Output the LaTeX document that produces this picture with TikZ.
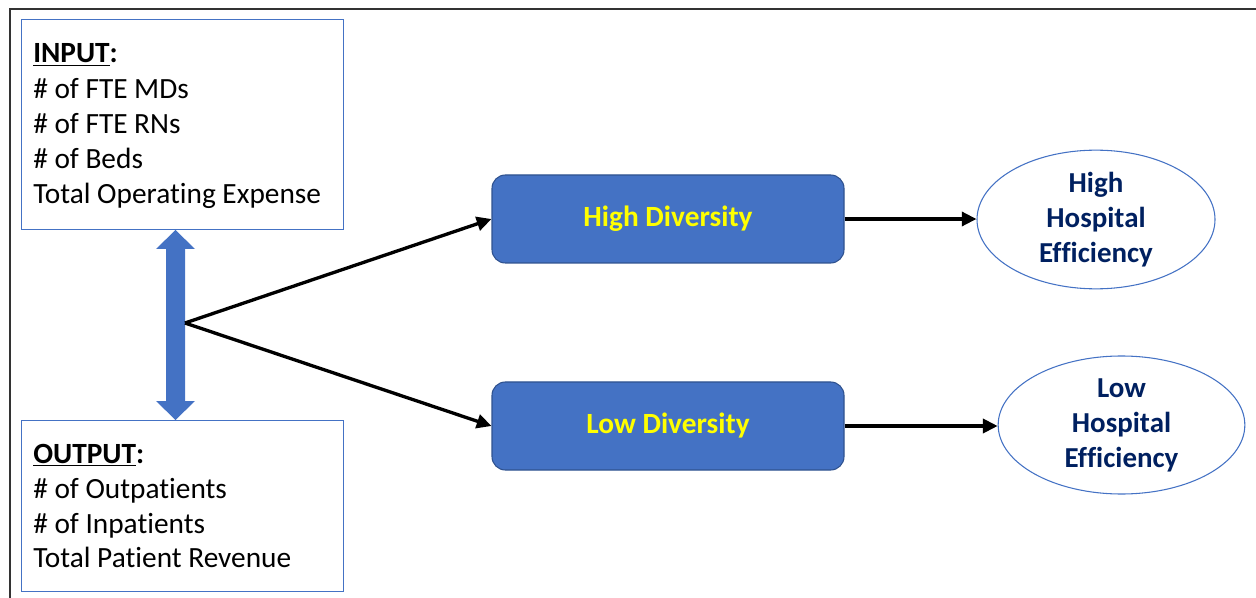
\documentclass[tikz,border=0pt]{standalone}
\usepackage{fontspec}
\setmainfont[Ligatures=NoCommon]{Carlito}
\usetikzlibrary{arrows.meta,shapes.geometric}
\definecolor{boxblue}{HTML}{4472C4}
\definecolor{boxedge}{HTML}{2F528F}
\definecolor{navy}{HTML}{002060}
\definecolor{yel}{HTML}{FFFF00}
\begin{document}
\begin{tikzpicture}[x=0.75pt,y=-0.75pt,
  listbox/.style={draw=boxblue, line width=0.8pt, minimum width=241.5pt, anchor=north west, inner sep=0},
  listline/.style={anchor=base west, inner sep=0, font=\fontsize{22}{26}\selectfont},
  divbox/.style={draw=boxedge, line width=0.8pt, fill=boxblue, rounded corners=10pt, minimum width=264pt, minimum height=66pt, inner sep=0, text=yel, font=\fontsize{22}{26}\selectfont\bfseries},
  effell/.style={ellipse, draw=boxblue, line width=0.8pt, inner sep=0, align=center, text=navy, font=\fontsize{21.7}{26.25}\selectfont\bfseries},
  flow/.style={draw=black, line width=2.5pt, -{Triangle[length=11pt,width=10.5pt]}}
]
\useasboundingbox (0,0) rectangle (1256,598);
% outer frame
\draw[line width=1.1pt, draw=black!80] (10,600) -- (10,9) -- (1260,9);

% input list
\node[listbox, minimum height=157.5pt] (inbox) at (21,19) {};
\node[listline] (in0) at (33,63) {\textbf{\underline{INPUT}:}};
\node[listline] (in1) at (33,99) {\# of FTE MDs};
\node[listline] (in2) at (33,134) {\# of FTE RNs};
\node[listline] (in3) at (33,169) {\# of Beds};
\node[listline] (in4) at (33,204) {Total Operating Expense};

% output list
\node[listbox, minimum height=128.25pt] (outbox) at (21,420) {};
\node[listline] (out0) at (33,463) {\textbf{\underline{OUTPUT}:}};
\node[listline] (out1) at (33,498) {\# of Outpatients};
\node[listline] (out2) at (33,533) {\# of Inpatients};
\node[listline] (out3) at (33,567) {Total Patient Revenue};

% two-headed block arrow between the lists
\fill[boxblue] (175.5,230) -- (195,249) -- (185,249) -- (185,401) -- (195,401)
  -- (175.5,420) -- (156,401) -- (166,401) -- (166,249) -- (156,249) -- cycle;
\coordinate (fork) at (185,323);

% diversity groups
\node[divbox] (hd) at (668,219) {High Diversity};
\node[divbox] (ld) at (668,426) {Low Diversity};

% efficiency outcomes
\node[effell, minimum width=178.5pt, minimum height=104pt] (he) at (1096,219.5) {High\\Hospital\\Efficiency};
\node[effell, minimum width=185pt, minimum height=103.5pt] (le) at (1121.5,425) {Low\\Hospital\\Efficiency};

% connectors
\draw[flow] (fork) -- (hd.west);
\draw[flow] (fork) -- (ld.west);
\draw[flow] (hd.east) -- (hd.east -| he.west);
\draw[flow] (ld.east) -- (ld.east -| le.west);
\end{tikzpicture}
\end{document}
